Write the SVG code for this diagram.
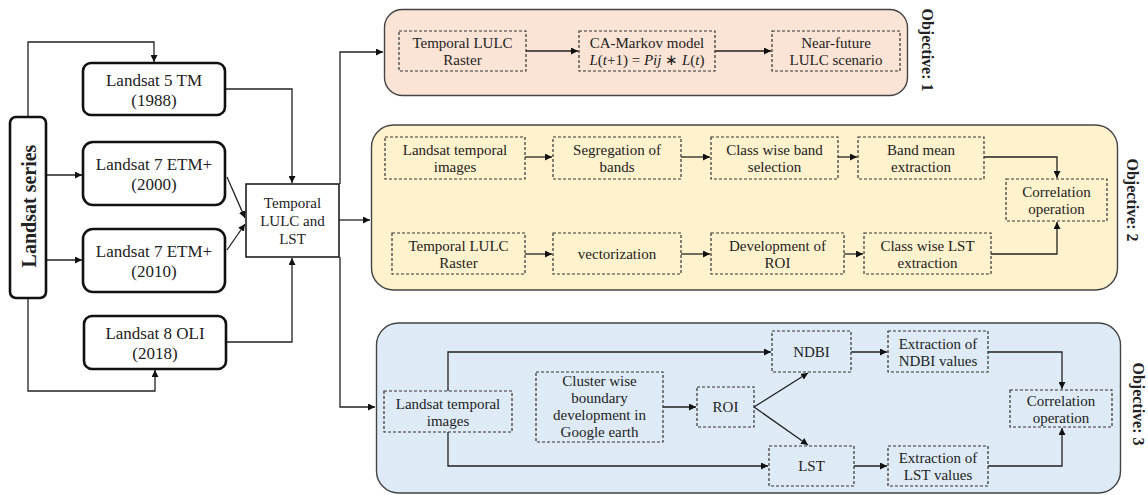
<svg xmlns="http://www.w3.org/2000/svg" width="1148" height="495" viewBox="0 0 1148 495">
<style>
text{font-family:"Liberation Serif","Times New Roman",serif;fill:#222;text-anchor:middle;dominant-baseline:central}
.t15{font-size:17px}
.t14{font-size:15px}
.sb{fill:#fff;stroke:#111;stroke-width:2.6}
.ds{stroke:#333;stroke-width:1.2;stroke-dasharray:3 2;fill:none}
.cn{fill:none;stroke:#222;stroke-width:1.3}
.obj{font-size:16px;font-weight:bold}
</style>
<defs>
<marker id="ar" viewBox="0 0 10 10" refX="10" refY="5" markerWidth="7" markerHeight="7" orient="auto" markerUnits="userSpaceOnUse"><path d="M0,0 L10,5 L0,10 z" fill="#111"/></marker>
</defs>
<rect width="1148" height="495" fill="#fff"/>

<g id="panels">
<rect id="obj1-bg" x="384.5" y="9.5" width="523" height="86" rx="18" fill="#fbe4d5" stroke="#444" stroke-width="1.4"/>
<rect id="obj2-bg" x="371.5" y="125" width="746" height="165" rx="22" fill="#fff2cc" stroke="#444" stroke-width="1.4"/>
<rect id="obj3-bg" x="376.5" y="323" width="744" height="170" rx="22" fill="#deebf7" stroke="#444" stroke-width="1.4"/>
</g>

<g id="connectors" class="cn">
<polyline points="28,117 28,42 154,42 154,62" marker-end="url(#ar)"/>
<line x1="46" y1="175" x2="82" y2="175" marker-end="url(#ar)"/>
<line x1="46" y1="260" x2="82" y2="260" marker-end="url(#ar)"/>
<polyline points="28,298 28,391 155,391 155,370" marker-end="url(#ar)"/>
<polyline points="225,89 292,89 292,183" marker-end="url(#ar)"/>
<polyline points="226,342 292,342 292,258" marker-end="url(#ar)"/>
<line x1="227" y1="177" x2="245" y2="218" marker-end="url(#ar)"/>
<line x1="227" y1="250" x2="245" y2="224" marker-end="url(#ar)"/>
<line x1="339" y1="220" x2="370" y2="220" marker-end="url(#ar)"/>
<polyline points="340,184 340,52 383,52" marker-end="url(#ar)"/>
<polyline points="340,257 340,407 375,407" marker-end="url(#ar)"/>
<line x1="526" y1="51" x2="578" y2="51" marker-end="url(#ar)"/>
<line x1="715" y1="51" x2="771" y2="51" marker-end="url(#ar)"/>
<line x1="525" y1="157" x2="552" y2="157" marker-end="url(#ar)"/>
<line x1="681" y1="157" x2="710" y2="157" marker-end="url(#ar)"/>
<line x1="838" y1="157" x2="857" y2="157" marker-end="url(#ar)"/>
<polyline points="984,157 1057,157 1057,178" marker-end="url(#ar)"/>
<line x1="525" y1="254" x2="552" y2="254" marker-end="url(#ar)"/>
<line x1="681" y1="254" x2="710" y2="254" marker-end="url(#ar)"/>
<line x1="844" y1="254" x2="863" y2="254" marker-end="url(#ar)"/>
<polyline points="991,254 1057,254 1057,222" marker-end="url(#ar)"/>
<polyline points="448,391 448,352 771,352" marker-end="url(#ar)"/>
<polyline points="448,432 448,466 768,466" marker-end="url(#ar)"/>
<line x1="663" y1="407" x2="696" y2="407" marker-end="url(#ar)"/>
<line x1="754" y1="407" x2="808" y2="373" marker-end="url(#ar)"/>
<line x1="754" y1="407" x2="808" y2="445" marker-end="url(#ar)"/>
<line x1="851" y1="352" x2="887" y2="352" marker-end="url(#ar)"/>
<line x1="854" y1="466" x2="887" y2="466" marker-end="url(#ar)"/>
<polyline points="988,352 1062,352 1062,389" marker-end="url(#ar)"/>
<polyline points="988,466 1062,466 1062,428" marker-end="url(#ar)"/>
</g>

<g id="landsat-series">
<rect class="sb" x="10" y="117" width="36" height="181" rx="6"/>
<text transform="translate(29,206) rotate(-90)" style="font-size:20px;font-weight:bold">Landsat series</text>
</g>
<g id="landsat5">
<rect class="sb" x="83" y="63" width="142" height="52" rx="8"/>
<text class="t15" x="154" y="80">Landsat 5 TM</text>
<text class="t15" x="154" y="100">(1988)</text>
</g>
<g id="landsat7-2000">
<rect class="sb" x="83" y="142" width="142" height="63" rx="10"/>
<text class="t15" x="154" y="164">Landsat 7 ETM+</text>
<text class="t15" x="154" y="184">(2000)</text>
</g>
<g id="landsat7-2010">
<rect class="sb" x="83" y="229" width="142" height="63" rx="10"/>
<text class="t15" x="154" y="251">Landsat 7 ETM+</text>
<text class="t15" x="154" y="271">(2010)</text>
</g>
<g id="landsat8">
<rect class="sb" x="84" y="316" width="142" height="53" rx="8"/>
<text class="t15" x="155" y="333">Landsat 8 OLI</text>
<text class="t15" x="155" y="353">(2018)</text>
</g>
<g id="temporal-lulc-lst">
<rect x="246" y="184" width="93" height="73" fill="#fff" stroke="#111" stroke-width="1.5"/>
<text class="t14" x="292.5" y="203">Temporal</text>
<text class="t14" x="292.5" y="221">LULC and</text>
<text class="t14" x="292.5" y="239">LST</text>
</g>

<g id="objective1">
<text class="obj" transform="translate(927,50) rotate(90)">Objective: 1</text>
<g id="o1-raster"><rect class="ds" x="399" y="31" width="127" height="40"/>
<text class="t14" x="462.5" y="43">Temporal LULC</text><text class="t14" x="462.5" y="60">Raster</text></g>
<g id="o1-camarkov"><rect class="ds" x="579" y="31" width="136" height="40"/>
<text class="t14" x="647" y="43">CA-Markov model</text>
<text class="t14" x="647" y="60"><tspan font-style="italic">L</tspan>(<tspan font-style="italic">t</tspan>+1) = <tspan font-style="italic">Pij</tspan> ∗ <tspan font-style="italic">L</tspan>(<tspan font-style="italic">t</tspan>)</text></g>
<g id="o1-nearfuture"><rect class="ds" x="772" y="31" width="128" height="40"/>
<text class="t14" x="836" y="43">Near-future</text><text class="t14" x="836" y="60">LULC scenario</text></g>
</g>

<g id="objective2">
<text class="obj" transform="translate(1132,200) rotate(90)">Objective: 2</text>
<g id="o2-landsat"><rect class="ds" x="385" y="137" width="140" height="42"/>
<text class="t14" x="455" y="150">Landsat temporal</text><text class="t14" x="455" y="167">images</text></g>
<g id="o2-segregation"><rect class="ds" x="553" y="137" width="128" height="42"/>
<text class="t14" x="617" y="150">Segregation of</text><text class="t14" x="617" y="167">bands</text></g>
<g id="o2-bandsel"><rect class="ds" x="711" y="137" width="127" height="42"/>
<text class="t14" x="774.5" y="150">Class wise band</text><text class="t14" x="774.5" y="167">selection</text></g>
<g id="o2-bandmean"><rect class="ds" x="858" y="137" width="126" height="42"/>
<text class="t14" x="921" y="150">Band mean</text><text class="t14" x="921" y="167">extraction</text></g>
<g id="o2-correlation"><rect class="ds" x="1006" y="179" width="101" height="42"/>
<text class="t14" x="1056.5" y="192">Correlation</text><text class="t14" x="1056.5" y="209">operation</text></g>
<g id="o2-raster"><rect class="ds" x="392" y="233" width="133" height="41"/>
<text class="t14" x="458.5" y="246">Temporal LULC</text><text class="t14" x="458.5" y="263">Raster</text></g>
<g id="o2-vector"><rect class="ds" x="553" y="233" width="128" height="41"/>
<text class="t14" x="617" y="254">vectorization</text></g>
<g id="o2-roi"><rect class="ds" x="711" y="233" width="133" height="41"/>
<text class="t14" x="777.5" y="246">Development of</text><text class="t14" x="777.5" y="263">ROI</text></g>
<g id="o2-lstext"><rect class="ds" x="864" y="233" width="127" height="41"/>
<text class="t14" x="927.5" y="246">Class wise LST</text><text class="t14" x="927.5" y="263">extraction</text></g>
</g>

<g id="objective3">
<text class="obj" transform="translate(1138,404) rotate(90)">Objective: 3</text>
<g id="o3-landsat"><rect class="ds" x="384" y="391" width="128" height="41"/>
<text class="t14" x="448" y="404">Landsat temporal</text><text class="t14" x="448" y="421">images</text></g>
<g id="o3-cluster"><rect class="ds" x="536" y="372" width="127" height="70"/>
<text class="t14" x="599.5" y="381">Cluster wise</text><text class="t14" x="599.5" y="398">boundary</text>
<text class="t14" x="599.5" y="415">development in</text><text class="t14" x="599.5" y="432">Google earth</text></g>
<g id="o3-roi"><rect class="ds" x="697" y="387" width="57" height="40"/>
<text class="t14" x="725.5" y="407">ROI</text></g>
<g id="o3-ndbi"><rect class="ds" x="772" y="331" width="79" height="41"/>
<text class="t14" x="811.5" y="352">NDBI</text></g>
<g id="o3-ndbiext"><rect class="ds" x="888" y="331" width="100" height="41"/>
<text class="t14" x="938" y="344">Extraction of</text><text class="t14" x="938" y="361">NDBI values</text></g>
<g id="o3-lst"><rect class="ds" x="769" y="446" width="85" height="40"/>
<text class="t14" x="811.5" y="466">LST</text></g>
<g id="o3-lstext"><rect class="ds" x="888" y="446" width="100" height="40"/>
<text class="t14" x="938" y="458">Extraction of</text><text class="t14" x="938" y="475">LST values</text></g>
<g id="o3-correlation"><rect class="ds" x="1010" y="390" width="102" height="37"/>
<text class="t14" x="1061" y="401">Correlation</text><text class="t14" x="1061" y="418">operation</text></g>
</g>
</svg>
